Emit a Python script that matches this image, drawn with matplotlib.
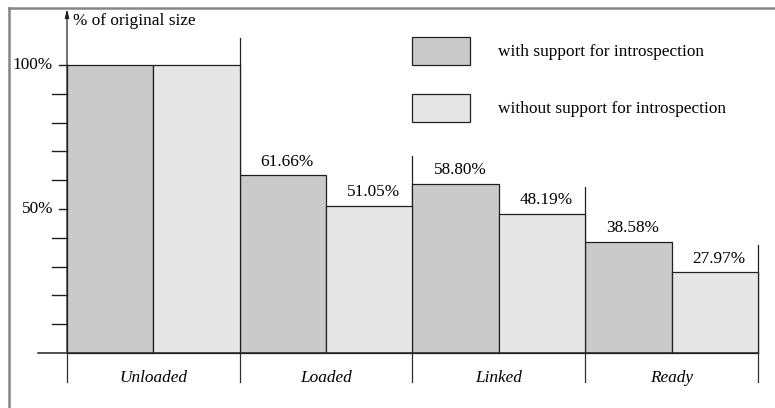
import numpy as np
from matplotlib import pyplot as plt
from matplotlib.patches import Rectangle
from matplotlib.lines import Line2D

plt.rcParams['font.family'] = ['Liberation Serif', 'DejaVu Serif']

# Datos
etapas = ["Unloaded", "Loaded", "Linked", "Ready"]
con_intro = [100.0, 61.66, 58.80, 38.58]
sin_intro = [100.0, 51.05, 48.19, 27.97]
etiquetas_con = ["", "61.66%", "58.80%", "38.58%"]
etiquetas_sin = ["", "51.05%", "48.19%", "27.97%"]
serie_con = "with support for introspection"
serie_sin = "without support for introspection"
ticks_y = [0, 10, 20, 30, 40, 50, 60, 70, 80, 90, 100]
ticks_lab = {50: "50%", 100: "100%"}

color_con = "#cacaca"
color_sin = "#e6e6e6"
fs = 12.4

fig = plt.figure(figsize=(7.75, 4.08), dpi=100)
ax = fig.add_axes([0, 0, 1, 1])
ax.set_axis_off()

# pixel -> datos: x 67px = 0, 86.375 px por barra; y 353px = 0, 2.88 px por %
W, H = 775, 408
px_x, x0 = 86.375, 67
px_y, y0 = 2.88, 353
ax.set_xlim(-x0 / px_x, (W - x0) / px_x)
ax.set_ylim((y0 - H) / px_y, y0 / px_y)

pos = np.arange(len(etapas)) * 2
ax.bar(pos, con_intro, width=1, align="edge", color=color_con,
       edgecolor="#202020", linewidth=0.9, clip_on=False, zorder=2)
ax.bar(pos + 1, sin_intro, width=1, align="edge", color=color_sin,
       edgecolor="#202020", linewidth=0.9, clip_on=False, zorder=2)

for i in range(len(etapas)):
    if etiquetas_con[i]:
        ax.text(pos[i] + 0.55, con_intro[i] + 2.0, etiquetas_con[i],
                ha="center", va="bottom", fontsize=fs)
    if etiquetas_sin[i]:
        ax.text(pos[i] + 1.55, sin_intro[i] + 2.0, etiquetas_sin[i],
                ha="center", va="bottom", fontsize=fs)
    ax.text(pos[i] + 1, -8.8, etapas[i], ha="center", va="center",
            fontsize=fs, style="italic")

# Linea base y eje vertical
ax.plot([-29 / px_x, 2 * len(etapas)], [0, 0], color="#202020", lw=1.1, zorder=3)
ax.annotate("", xy=(0, 119.5), xytext=(0, 0),
            arrowprops=dict(arrowstyle="-|>,head_length=0.5,head_width=0.12",
                            color="#202020", lw=0.9, shrinkA=0, shrinkB=0))
ax.text(0.07, 115.2, "% of original size", ha="left", va="center", fontsize=fs)

# marcas: cortas con etiqueta, largas sin ella
for t in ticks_y[1:]:
    if t in ticks_lab:
        ax.plot([-8 / px_x, 0], [t, t], color="#202020", lw=1.0)
        ax.text(-14 / px_x, t, ticks_lab[t], ha="right", va="center", fontsize=fs)
    else:
        ax.plot([-15 / px_x, 0], [t, t], color="#202020", lw=1.0)

# Separadores entre etapas
bordes = list(pos) + [2 * len(etapas)]
for k, b in enumerate(bordes):
    ax.plot([b, b], [0, -10], color="#303030", lw=0.9, zorder=3)
    if 0 < k:
        izq = sin_intro[k - 1]
        der = con_intro[k] if k < len(etapas) else 0
        ax.plot([b, b], [0, max(izq, der) + 9.5], color="#202020", lw=0.9, zorder=1)

# Leyenda
xl = (412 - x0) / px_x
for y_top, c, lab in [(109.7, color_con, serie_con), (89.9, color_sin, serie_sin)]:
    ax.add_patch(Rectangle((xl, y_top - 9.8), 58 / px_x, 9.8, facecolor=c,
                           edgecolor="#202020", lw=0.9))
    ax.text((498 - x0) / px_x, y_top - 5.1, lab, ha="left", va="center", fontsize=fs)

# Marco exterior
fig.add_artist(Line2D([9 / W, 9 / W], [0, 1 - 8 / H], color="#858585", lw=1.8))
fig.add_artist(Line2D([9 / W, 1], [1 - 8 / H, 1 - 8 / H], color="#858585", lw=1.8))

fig.savefig("out.png", dpi=100)
